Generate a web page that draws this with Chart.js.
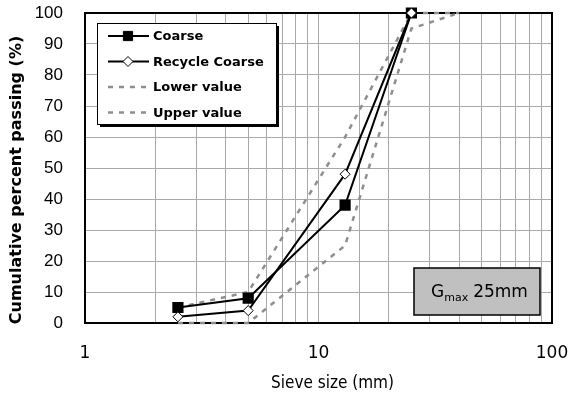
<!DOCTYPE html>
<html>
<head>
<meta charset="utf-8">
<script src="https://cdn.jsdelivr.net/npm/chart.js@4.4.1/dist/chart.umd.min.js"></script>
<style>
  html, body { margin: 0; padding: 0; background: #fff; }
  #wrap { width: 570px; height: 395px; }
</style>
</head>
<body>
<div id="wrap"><canvas id="sieveChart" width="570" height="395"></canvas></div>
<script>
// gradation data (sieve size mm / % passing)
const coarseSizes = [2.5, 5, 13, 25];
const coarseValues = [5, 8, 38, 100];
const recycleSizes = [2.5, 5, 13, 25];
const recycleValues = [2, 4, 48, 100];
const lowerSizes = [2.5, 5, 13, 25, 40];
const lowerValues = [0, 0, 25, 95, 100];
const upperSizes = [2.5, 5, 13, 25, 40];
const upperValues = [5, 10, 60, 100, 100];
const xTickLabels = [1, 10, 100];
const seriesNames = ['Coarse', 'Recycle Coarse', 'Lower value', 'Upper value'];

function toPoints(xs, ys) {
    return xs.map((x, i) => ({ x: x, y: ys[i] }));
}

const dashGray = '#8e8e8e';

const extras = {
    id: 'extras',
    beforeDatasetsDraw(chart) {
        const c = chart.ctx, a = chart.chartArea;
        c.save();
        c.strokeStyle = '#000';
        c.lineWidth = 2;
        c.strokeRect(a.left, a.top, a.right - a.left, a.bottom - a.top);
        c.restore();
    },
    afterDraw(chart) {
        const c = chart.ctx, a = chart.chartArea;
        c.save();

        // axis titles
        c.fillStyle = '#000';
        c.textAlign = 'center';
        c.textBaseline = 'middle';
        c.font = '17px "DejaVu Sans Condensed", "DejaVu Sans"';
        c.fillText('Sieve size (mm)', a.left + (a.right - a.left) / 2 + 14, a.bottom + 61);
        c.translate(17, a.top + (a.bottom - a.top) / 2 + 12);
        c.rotate(-Math.PI / 2);
        c.font = 'bold 16px "DejaVu Sans"';
        c.fillText('Cumulative percent passing (%)', 0, 0);
        c.restore();

        // legend box
        c.save();
        const lx = a.left + 12, ly = a.top + 10, lw = 179, lh = 101;
        c.fillStyle = '#000';
        c.fillRect(lx + 3, ly + 3, lw, lh);
        c.fillStyle = '#fff';
        c.fillRect(lx, ly, lw, lh);
        c.strokeStyle = '#000';
        c.lineWidth = 1;
        c.strokeRect(lx + 0.5, ly + 0.5, lw, lh);
        c.font = 'bold 13px "DejaVu Sans"';
        c.textAlign = 'left';
        c.textBaseline = 'middle';
        chart.data.datasets.forEach((ds, i) => {
            const y = ly + 13 + i * 25.5;
            c.strokeStyle = ds.borderColor;
            c.lineWidth = ds.borderWidth;
            c.setLineDash(ds.borderDash || []);
            c.beginPath();
            c.moveTo(lx + 11, y);
            c.lineTo(lx + 52, y);
            c.stroke();
            c.setLineDash([]);
            if (ds.pointRadius > 0) {
                c.fillStyle = ds.pointBackgroundColor;
                c.strokeStyle = '#000';
                c.lineWidth = 1;
                c.beginPath();
                if (ds.pointStyle === 'rect') {
                    const s = ds.pointRadius * Math.SQRT1_2;
                    c.rect(lx + 31 - s, y - s, 2 * s, 2 * s);
                } else {
                    const r = ds.pointRadius;
                    c.moveTo(lx + 31, y - r);
                    c.lineTo(lx + 31 + r, y);
                    c.lineTo(lx + 31, y + r);
                    c.lineTo(lx + 31 - r, y);
                    c.closePath();
                }
                c.fill();
                c.stroke();
            }
            c.fillStyle = '#000';
            c.fillText(ds.label, lx + 56, y + 1);
        });
        c.restore();

        // Gmax note
        c.save();
        const bw = 126, bh = 47;
        const bx = a.right - 12 - bw, by = a.bottom - 8 - bh;
        c.fillStyle = '#c0c0c0';
        c.fillRect(bx, by, bw, bh);
        c.strokeStyle = '#000';
        c.lineWidth = 1.5;
        c.strokeRect(bx, by, bw, bh);
        c.fillStyle = '#000';
        c.textBaseline = 'alphabetic';
        c.textAlign = 'left';
        let tx = bx + 17;
        const base = by + 29;
        c.font = '17px "DejaVu Sans"';
        c.fillText('G', tx, base);
        tx += c.measureText('G').width;
        c.font = '11px "DejaVu Sans"';
        c.fillText('max', tx, base + 4);
        tx += c.measureText('max').width + 5;
        c.font = '17px "DejaVu Sans"';
        c.fillText('25mm', tx, base);
        c.restore();
    }
};

const ctx = document.getElementById('sieveChart').getContext('2d');
const sieveChart = new Chart(ctx, {
    type: 'line',
    data: {
        datasets: [{
            label: seriesNames[0],
            data: toPoints(coarseSizes, coarseValues),
            borderColor: '#000',
            borderWidth: 2,
            pointStyle: 'rect',
            pointRadius: 6.5,
            pointBackgroundColor: '#000',
            pointBorderColor: '#000',
            order: 2,
            clip: false
        }, {
            label: seriesNames[1],
            data: toPoints(recycleSizes, recycleValues),
            borderColor: '#000',
            borderWidth: 2,
            pointStyle: 'rectRot',
            pointRadius: 5,
            pointBackgroundColor: '#fff',
            pointBorderColor: '#000',
            pointBorderWidth: 1,
            order: 1,
            clip: false
        }, {
            label: seriesNames[2],
            data: toPoints(lowerSizes, lowerValues),
            borderColor: dashGray,
            borderWidth: 2.5,
            borderDash: [5, 6],
            pointRadius: 0,
            order: 3,
            clip: false
        }, {
            label: seriesNames[3],
            data: toPoints(upperSizes, upperValues),
            borderColor: dashGray,
            borderWidth: 2.5,
            borderDash: [5, 6],
            pointRadius: 0,
            order: 4,
            clip: false
        }]
    },
    options: {
        responsive: false,
        animation: false,
        layout: { padding: { top: 13, right: 18, left: 0, bottom: 0 } },
        plugins: {
            legend: { display: false },
            tooltip: { enabled: false }
        },
        scales: {
            x: {
                type: 'logarithmic',
                min: 1,
                max: 100,
                border: { display: false },
                grid: { color: '#a9a9a9', lineWidth: 1, drawTicks: false },
                afterFit(scale) {
                    scale.height = 72;
                    scale.paddingLeft = 0;
                    scale.paddingRight = 0;
                },
                ticks: {
                    autoSkip: false,
                    maxRotation: 0,
                    padding: 20,
                    color: '#000',
                    font: { family: '"DejaVu Sans"', size: 17 },
                    callback: function (value, index, ticks) {
                        const v = ticks[index].value;
                        return xTickLabels.includes(v) ? String(v) : '';
                    }
                }
            },
            y: {
                min: 0,
                max: 100,
                border: { display: false },
                grid: { color: '#a9a9a9', lineWidth: 1, drawTicks: false },
                afterFit(scale) {
                    scale.width = 85;
                    scale.paddingTop = 0;
                    scale.paddingBottom = 0;
                },
                ticks: {
                    stepSize: 10,
                    padding: 22,
                    color: '#000',
                    font: { family: '"Liberation Sans"', size: 17 }
                }
            }
        }
    },
    plugins: [extras]
});
</script>
</body>
</html>
